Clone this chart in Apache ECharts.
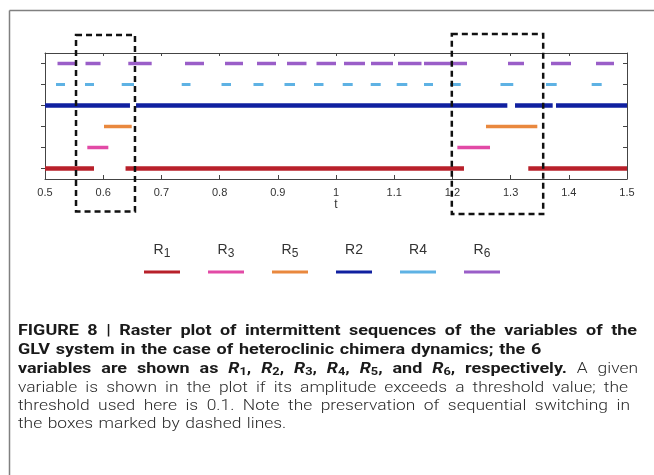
<!DOCTYPE html>
<html>
<head>
<meta charset="utf-8">
<script src="https://cdn.jsdelivr.net/npm/echarts@6/dist/echarts.min.js"></script>
<style>
html,body{margin:0;padding:0;background:#fff;}
#c{width:654px;height:475px;}
</style>
</head>
<body>
<div id="c"></div>
<script>
// ---- data ----
const xMin = 0.5, xMax = 1.5, xStep = 0.1;
const rowNames = ['R1', 'R3', 'R5', 'R2', 'R4', 'R6']; // bottom to top
const R1 = [[0.5, 0.5842], [0.6384, 1.2199], [1.3304, 1.5]];
const R3 = [[0.5727, 0.6088], [1.2085, 1.2646]];
const R5 = [[0.6014, 0.6490], [1.2577, 1.3459]];
const R2 = [[0.5, 0.6460], [0.6564, 1.2944], [1.3076, 1.3723], [1.3780, 1.5]];
const R4 = [[0.5189, 0.5344], [0.5687, 0.5842], [0.6318, 0.6529], [0.7349, 0.7500],
            [0.8033, 0.8196], [0.8582, 0.8754], [0.9115, 0.9296], [0.9622, 0.9785],
            [1.0115, 1.0287], [1.0596, 1.0768], [1.1043, 1.1225], [1.1512, 1.1667],
            [1.1959, 1.2143], [1.2826, 1.3046], [1.3608, 1.3792], [1.4393, 1.4565]];
const R6 = [[0.5215, 0.5541], [0.5696, 0.5954], [0.6431, 0.6833], [0.7405, 0.7732],
            [0.8093, 0.8402], [0.8643, 0.8969], [0.9158, 0.9493], [0.9665, 1.0000],
            [1.0137, 1.0498], [1.0601, 1.0979], [1.1065, 1.1469], [1.1512, 1.2251],
            [1.2955, 1.3230], [1.3694, 1.4038], [1.4467, 1.4777]];
// dashed boxes: [x0, x1, yBottom, yTop] in axis units (rows 1..6)
const boxes = [[0.5533, 0.6546, -1.05, 7.36], [1.199, 1.356, -1.17, 7.40]];
const legendOrder = ['R1', 'R3', 'R5', 'R2', 'R4', 'R6'];

// ---- styles ----
const seriesStyle = {
  R1: {color: '#b8202a', width: 4.5},
  R3: {color: '#e24aa6', width: 3.5},
  R5: {color: '#e9883e', width: 3.5},
  R2: {color: '#1020a0', width: 4.5},
  R4: {color: '#5eb2e4', width: 3},
  R6: {color: '#9a5ec8', width: 3.5}
};
const seriesData = {R1, R3, R5, R2, R4, R6};

const chart = echarts.init(document.getElementById('c'), null, {renderer: 'canvas'});

function segSeries(name) {
  const row = rowNames.indexOf(name) + 1;
  const st = seriesStyle[name];
  return {
    type: 'custom', name: name, xAxisIndex: 0, yAxisIndex: 2,
    data: seriesData[name].map(s => [s[0], s[1], row]),
    encode: {x: [0, 1], y: 2},
    renderItem: function (params, api) {
      const y = api.value(2);
      const a = api.coord([api.value(0), y]);
      const b = api.coord([api.value(1), y]);
      return {type: 'line', shape: {x1: a[0], y1: a[1], x2: b[0], y2: b[1]},
        style: {stroke: st.color, lineWidth: st.width, lineCap: 'butt'}};
    },
    z: 3
  };
}

const boxSeries = {
  type: 'custom', xAxisIndex: 0, yAxisIndex: 2, clip: false, z: 10,
  data: boxes,
  encode: {x: [0, 1], y: [2, 3]},
  renderItem: function (params, api) {
    const p0 = api.coord([api.value(0), api.value(3)]);
    const p1 = api.coord([api.value(1), api.value(2)]);
    return {type: 'rect', shape: {x: p0[0], y: p0[1], width: p1[0] - p0[0], height: p1[1] - p0[1]},
      style: {fill: 'none', stroke: '#111', lineWidth: 2.5, lineDash: [6, 4]}};
  }
};

// legend graphics
const legendX = [162, 226, 290, 354, 418, 482];
const subName = {R1: true, R3: true, R5: true, R6: true, R2: false, R4: false};
const legendGraphics = [];
legendOrder.forEach((n, i) => {
  const txt = subName[n] ? '{r|R}{s|' + n.slice(1) + '}' : '{r|' + n + '}';
  legendGraphics.push({
    type: 'text', x: legendX[i], y: 250,
    style: {text: txt, align: 'center', verticalAlign: 'middle',
      rich: {
        r: {fontSize: 14, fontFamily: 'Liberation Sans', fill: '#333', lineHeight: 20, verticalAlign: 'middle'},
        s: {fontSize: 12, fontFamily: 'Liberation Sans', fill: '#333', lineHeight: 12, verticalAlign: 'bottom'}
      }}
  });
  legendGraphics.push({
    type: 'line', shape: {x1: legendX[i] - 18, y1: 272, x2: legendX[i] + 18, y2: 272},
    style: {stroke: seriesStyle[n].color, lineWidth: 3}
  });
});

// ---- caption (justified, condensed look) ----
const capFont = 'Roboto';
const capStyles = {
  b: {fontSize: 15.5, fontWeight: 'bold', fontFamily: capFont, fill: '#1a1a1a', lineHeight: 18},
  bi: {fontSize: 15.5, fontWeight: 'bold', fontStyle: 'italic', fontFamily: capFont, fill: '#1a1a1a', lineHeight: 18},
  bs: {fontSize: 11, fontWeight: 'bold', fontFamily: capFont, fill: '#1a1a1a', lineHeight: 11, verticalAlign: 'bottom'},
  n: {fontSize: 15.5, fontWeight: 300, fontFamily: capFont, fill: '#2a2a2a', lineHeight: 18}
};
const family = {b: 'bold', bi: 'bold', bs: 'bold', n: 'reg'};
function words(style, str) { return str.split(' ').map(w => [[style, w]]); }
function rw(k) { return [['bi', 'R'], ['bs', String(k)], ['b', ',']]; }
const captionWords = [
  words('b', 'FIGURE 8 | Raster plot of intermittent sequences of the variables of the'),
  words('b', 'GLV system in the case of heteroclinic chimera dynamics; the 6'),
  words('b', 'variables are shown as').concat([rw(1), rw(2), rw(3), rw(4), rw(5)],
    words('b', 'and'), [rw(6)], words('b', 'respectively.'), words('n', 'A given')),
  words('n', 'variable is shown in the plot if its amplitude exceeds a threshold value; the'),
  words('n', 'threshold used here is 0.1. Note the preservation of sequential switching in'),
  words('n', 'the boxes marked by dashed lines.')
];
const captionY = [331, 350, 369, 388, 406, 424];
const captionLeft = 18;
const captionRight = [637, 506, 638, 628, 630, 248];
const captionJustify = [true, false, true, true, true, false];
const spaceStretch = 1.9; // justified gaps relative to a normal space

const mctx = document.createElement('canvas').getContext('2d');
function tokW(style, text) {
  const s = capStyles[style];
  mctx.font = (s.fontStyle || 'normal') + ' ' + (s.fontWeight || 'normal') + ' ' + s.fontSize + 'px ' + s.fontFamily;
  return mctx.measureText(text).width;
}
function wordW(w) { return w.reduce((a, t) => a + tokW(t[0], t[1]), 0); }
function scaleFor(ws, target) {
  let wsum = 0, ssum = 0;
  ws.forEach((w, i) => { wsum += wordW(w); if (i < ws.length - 1) ssum += tokW(w[w.length - 1][0], ' '); });
  return target / (wsum + spaceStretch * ssum);
}
const famScale = {
  bold: scaleFor(captionWords[0], captionRight[0] - captionLeft),
  reg: scaleFor(captionWords[3], captionRight[3] - captionLeft)
};
const captionGraphics = [];
captionWords.forEach((ws, li) => {
  const widths = ws.map(w => wordW(w) * famScale[family[w[0][0]]]);
  let gaps;
  if (captionJustify[li]) {
    const sum = widths.reduce((a, b) => a + b, 0);
    const g = (captionRight[li] - captionLeft - sum) / (ws.length - 1);
    gaps = ws.map(() => g);
  } else {
    gaps = ws.map(w => tokW(w[w.length - 1][0], ' ') * famScale[family[w[0][0]]] * 1.3);
  }
  let x = captionLeft;
  ws.forEach((w, wi) => {
    const text = w.map(t => '{' + t[0] + '|' + t[1] + '}').join('');
    captionGraphics.push({
      type: 'text', x: x, y: captionY[li], scaleX: famScale[family[w[0][0]]],
      style: {text: text, align: 'left', verticalAlign: 'middle', rich: capStyles}
    });
    x += widths[wi] + gaps[wi];
  });
});

const frameGraphics = [
  {type: 'line', shape: {x1: 9.5, y1: 10.5, x2: 654, y2: 10.5}, style: {stroke: '#808080', lineWidth: 1.5}},
  {type: 'line', shape: {x1: 9.5, y1: 10.5, x2: 9.5, y2: 475}, style: {stroke: '#808080', lineWidth: 1.5}}
];

const axisLineStyle = {color: '#444', width: 1};

chart.setOption({
  animation: false,
  backgroundColor: '#fff',
  grid: {left: 45, right: 27, top: 53, height: 126},
  xAxis: [
    {type: 'value', position: 'bottom', min: xMin, max: xMax, interval: xStep,
      name: 't', nameLocation: 'middle', nameGap: 19,
      nameTextStyle: {fontSize: 12, fontFamily: 'Liberation Sans', color: '#333'},
      axisLine: {show: true, lineStyle: axisLineStyle},
      axisTick: {show: true, inside: true, length: 4, lineStyle: axisLineStyle},
      axisLabel: {fontSize: 11, fontFamily: 'Liberation Sans', color: '#333', margin: 8},
      splitLine: {show: false}},
    {type: 'value', position: 'top', min: xMin, max: xMax, interval: xStep,
      axisLine: {show: true, lineStyle: axisLineStyle},
      axisTick: {show: true, inside: true, length: 3, lineStyle: axisLineStyle},
      axisLabel: {show: false}, splitLine: {show: false}}
  ],
  yAxis: [
    {type: 'category', position: 'left', data: rowNames,
      axisLine: {show: true, lineStyle: axisLineStyle},
      axisTick: {show: true, alignWithLabel: true, inside: false, length: 4, lineStyle: axisLineStyle},
      axisLabel: {show: false}, splitLine: {show: false}},
    {type: 'category', position: 'right', data: rowNames,
      axisLine: {show: true, lineStyle: axisLineStyle},
      axisTick: {show: true, alignWithLabel: true, inside: true, length: 4, lineStyle: axisLineStyle},
      axisLabel: {show: false}, splitLine: {show: false}},
    {type: 'value', min: 0.5, max: 6.5, show: false, splitLine: {show: false}}
  ],
  series: rowNames.map(segSeries).concat([boxSeries]),
  graphic: frameGraphics.concat(legendGraphics, captionGraphics)
});
</script>
</body>
</html>
